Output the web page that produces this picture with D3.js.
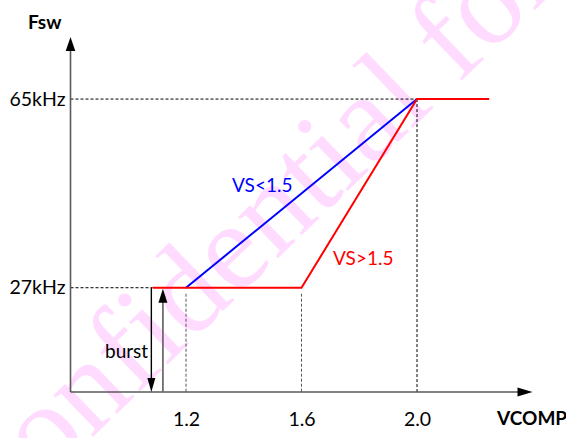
<!DOCTYPE html>
<html>
<head>
<meta charset="utf-8">
<script src="https://cdn.jsdelivr.net/npm/d3@7"></script>
<style>
  html, body { margin: 0; padding: 0; background: #fff; }
  svg { display: block; }
</style>
</head>
<body>
<svg id="chart" width="566" height="438"></svg>
<script>
// Switching frequency versus VCOMP, for the two VS regions
const vcompTicks = [1.2, 1.6, 2.0];
const fswTicks = [27, 65];
const fswTickLabels = ["27kHz", "65kHz"];

// VS > 1.5: burst floor, flat until 1.6 V, ramp to 65 kHz at 2.0 V, then clamp
const vsHighV = [1.085, 1.6, 2.0, 2.25];
const vsHighF = [27, 27, 65, 65];

// VS < 1.5: ramp starts at 1.2 V
const vsLowV = [1.2, 2.0];
const vsLowF = [27, 65];

// burst region markers
const burstDownV = 1.08;
const burstUpV = 1.12;

const SANS = "Lato, 'Noto Sans', sans-serif";
const svg = d3.select("#chart");

const x = d3.scaleLinear().domain([0.8, 2.4]).range([70.5, 532.5]);
const y = d3.scaleLinear().domain([6, 77.5]).range([392, 37]);

// watermark
svg.append("text")
  .attr("transform", "translate(-14,540) rotate(-44)")
  .style("font-family", "'Liberation Serif', 'DejaVu Serif', serif")
  .style("font-size", "125px")
  .attr("fill", "#ff00ff")
  .attr("fill-opacity", 0.14)
  .text("Confidential for");

const g = svg.append("g");

function arrowHead(tipX, tipY, dir, len, half, color) {
  let pts;
  if (dir === "up") pts = [[tipX, tipY], [tipX - half, tipY + len], [tipX + half, tipY + len]];
  else if (dir === "down") pts = [[tipX, tipY], [tipX - half, tipY - len], [tipX + half, tipY - len]];
  else pts = [[tipX, tipY], [tipX - len, tipY - half], [tipX - len, tipY + half]];
  g.append("path").attr("d", d3.line()(pts) + "Z").attr("fill", color);
}

const x0 = x.range()[0], y0 = y.range()[0];
const xEnd = x.range()[1], yTop = y.range()[1];

// guide lines
const dash = "3,2";
g.append("line").attr("x1", x0).attr("x2", x(2.0)).attr("y1", y(65)).attr("y2", y(65))
  .attr("stroke", "#000").attr("stroke-width", 1).attr("stroke-dasharray", dash);
g.append("line").attr("x1", x0).attr("x2", x(vsHighV[0])).attr("y1", y(27)).attr("y2", y(27))
  .attr("stroke", "#000").attr("stroke-width", 1).attr("stroke-dasharray", dash);
g.append("line").attr("x1", x(2.0)).attr("x2", x(2.0)).attr("y1", y(65)).attr("y2", y0)
  .attr("stroke", "#000").attr("stroke-width", 1).attr("stroke-dasharray", dash);
[1.2, 1.6].forEach(v => {
  g.append("line").attr("x1", x(v)).attr("x2", x(v)).attr("y1", y(27) + 6).attr("y2", y0)
    .attr("stroke", "#555").attr("stroke-width", 1).attr("stroke-dasharray", dash);
});

// axes
g.append("line").attr("x1", x0).attr("x2", x0).attr("y1", y0).attr("y2", yTop + 12)
  .attr("stroke", "#595959").attr("stroke-width", 1.6);
arrowHead(x0, yTop, "up", 14, 4.8, "#000");
g.append("line").attr("x1", x0).attr("x2", xEnd - 12).attr("y1", y0).attr("y2", y0)
  .attr("stroke", "#595959").attr("stroke-width", 1.6);
arrowHead(xEnd, y0, "right", 15, 4.6, "#000");

// burst arrows
g.append("line").attr("x1", x(burstDownV)).attr("x2", x(burstDownV)).attr("y1", y(27)).attr("y2", y0 - 12)
  .attr("stroke", "#000").attr("stroke-width", 1.4);
arrowHead(x(burstDownV), y0, "down", 14, 4, "#000");
g.append("line").attr("x1", x(burstUpV)).attr("x2", x(burstUpV)).attr("y1", y0).attr("y2", y(27) + 12)
  .attr("stroke", "#6e6e6e").attr("stroke-width", 1.8);
arrowHead(x(burstUpV), y(27) + 1, "up", 14, 4.5, "#000");

// curves
const line = d3.line().x(d => x(d[0])).y(d => y(d[1]));
g.append("path").datum(d3.zip(vsLowV, vsLowF)).attr("d", line)
  .attr("fill", "none").attr("stroke", "#0000ff").attr("stroke-width", 2);
g.append("path").datum(d3.zip(vsHighV, vsHighF)).attr("d", line)
  .attr("fill", "none").attr("stroke", "#ff0000").attr("stroke-width", 2).attr("stroke-linejoin", "miter");

// tick labels
const xAxis = d3.axisBottom(x).tickValues(vcompTicks).tickSize(0).tickPadding(20)
  .tickFormat(d3.format(".1f"));
const xa = g.append("g").attr("transform", `translate(0,${y0})`).call(xAxis);
xa.select(".domain").remove();
xa.selectAll("text").style("font-family", SANS).style("font-size", "19.5px").attr("fill", "#000");

const yAxis = d3.axisLeft(y).tickValues(fswTicks).tickSize(0).tickPadding(5)
  .tickFormat((d, i) => fswTickLabels[i]);
const ya = g.append("g").attr("transform", `translate(${x0},0)`).call(yAxis);
ya.select(".domain").remove();
ya.selectAll("text").style("font-family", SANS).style("font-size", "19.5px").attr("fill", "#000");

// axis titles and annotations
function label(tx, ty, size, color, weight, str) {
  g.append("text").attr("x", tx).attr("y", ty)
    .style("font-family", SANS).style("font-size", size + "px").style("font-weight", weight)
    .attr("fill", color).text(str);
}
label(28, 29, 19, "#000", "bold", "Fsw");
label(497, 425, 19, "#000", "bold", "VCOMP");
label(232, 192, 19, "#0000ff", "normal", "VS<1.5");
label(333, 265, 19, "#ff0000", "normal", "VS>1.5");
label(105, 358, 19, "#000", "normal", "burst");
</script>
</body>
</html>
